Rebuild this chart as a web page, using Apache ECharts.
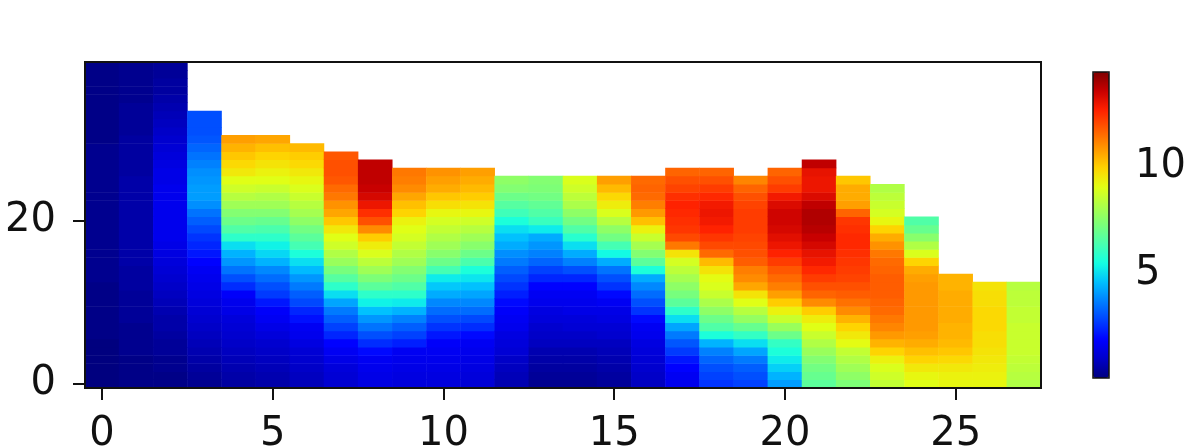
<!DOCTYPE html>
<html><head><meta charset="utf-8">
<style>html,body{margin:0;padding:0;background:#fff}#c{width:1196px;height:448px}</style>
<script src="https://cdn.jsdelivr.net/npm/echarts@6/dist/echarts.min.js"></script>
</head><body><div id="c"></div>
<script>
// Each column lists its cell values from the bottom row upward; height varies per column.
const col00=[.1,.1,.1,.1,.1,.1,.2,.2,.2,.2,.2,.2,.2,.3,.3,.3,.3,.3,.3,.3,.3,.3,.3,.3,.3,.3,.3,.3,.3,.3,.2,.2,.2,.2,.2,.2,.2,.2,.2,.2];
const col01=[.2,.2,.2,.2,.3,.3,.3,.3,.4,.4,.4,.4,.5,.5,.5,.6,.6,.6,.6,.6,.6,.6,.6,.6,.6,.6,.5,.5,.5,.5,.5,.4,.4,.4,.4,.3,.3,.3,.3,.3];
const col02=[.2,.2,.3,.3,.4,.4,.5,.6,.6,.7,.8,.9,1,1.1,1.2,1.3,1.4,1.5,1.6,1.6,1.6,1.6,1.6,1.6,1.6,1.5,1.5,1.4,1.3,1.2,1.1,1,.9,.8,.7,.6,.5,.5,.4,.4];
const col03=[.3,.4,.5,.6,.7,.8,.9,1,1.1,1.2,1.3,1.4,1.5,1.6,1.7,1.9,2.2,2.4,2.6,2.9,3.2,3.5,3.9,4.1,4.1,4,3.9,3.7,3.5,3.3,3.1,3,3,3];
const col04=[.5,.6,.7,.8,.9,1,1.1,1.2,1.3,1.5,1.6,1.8,2.5,3,3.5,4,4.4,5,5.9,6.5,7,7.4,7.9,8.3,8.7,9,9.5,9.8,10.1,10.4,10.7];
const col05=[.6,.7,.8,.9,1,1.1,1.3,1.5,1.7,1.8,2.2,2.7,3,3.4,3.8,4.4,4.9,5.3,5.9,6.4,6.9,7.4,7.9,8.2,8.6,9,9.3,9.6,9.9,10.2,10.6];
const col06=[.8,.9,1,1.1,1.2,1.4,1.6,1.7,2.1,2.4,2.9,3.2,3.6,4,4.5,5,5.6,6.3,6.7,7.1,7.6,8,8.3,8.6,8.9,9.2,9.5,9.8,10,10.3];
const col07=[1.1,1.2,1.3,1.5,1.7,1.9,2.4,2.8,3.2,3.6,4.2,5,5.9,6.6,7.2,7.8,8.2,8.7,9,9.5,10.1,10.6,10.9,11.3,11.5,11.8,11.9,11.9,11.8];
const col08=[1.4,1.5,1.6,1.7,2,2.5,3,3.5,4,4.6,5.3,5.9,6.7,7.3,7.9,8.4,8.9,9.4,10,11,11.9,12.4,12.9,13.3,13.5,13.6,13.6,13.6];
const col09=[1.3,1.4,1.5,1.6,1.7,2.3,2.8,3.2,3.7,4.4,5.2,5.9,6.5,7,7.4,7.9,8.2,8.5,8.8,9,9.3,9.9,10.2,10.6,11,11.2,11.3];
const col10=[1.3,1.4,1.5,1.6,1.7,1.8,2.2,2.6,3,3.4,3.8,4.3,4.7,5.2,6.3,7,7.5,7.9,8.2,8.5,8.8,9.2,9.7,10.1,10.5,10.7,10.9];
const col11=[1.2,1.3,1.4,1.5,1.6,1.7,2,2.5,2.9,3.4,3.8,4.2,4.6,5.1,5.6,6.4,7,7.5,7.9,8.3,8.7,9.2,9.6,10,10.3,10.5,10.7];
const col12=[.7,.8,.9,1,1.2,1.3,1.4,1.6,1.7,1.8,2,2.3,2.6,2.9,3.2,3.6,3.9,4.3,4.6,5,5.6,6.2,6.6,7,7.4,7.6];
const col13=[.3,.4,.5,.6,.7,.9,1,1.1,1.3,1.4,1.6,1.7,1.9,2.4,2.8,3.3,3.7,4,4.3,5.2,6.1,6.5,6.8,7.1,7.3,7.4];
const col14=[.3,.4,.5,.6,.7,.9,1,1.2,1.3,1.5,1.6,1.7,1.9,2.4,3,3.7,4.3,5,5.8,6.5,7.1,7.6,8.1,8.4,8.7,8.9];
const col15=[.4,.5,.6,.7,.8,.9,1.1,1.2,1.4,1.5,1.7,2,2.6,3,3.5,4.3,5.4,6.3,7.1,7.6,8.3,8.9,9.4,9.8,10.3,10.7];
const col16=[.9,1,1.1,1.2,1.3,1.4,1.6,1.7,2,2.6,3,3.4,3.8,4.3,5.6,6.7,7.4,8,8.6,9.3,10.2,10.8,11.2,11.5,11.6,11.5];
const col17=[1.6,1.7,1.9,2.2,2.7,3.1,3.6,4.2,5,5.9,6.7,7.2,7.6,8,8.4,8.8,9.6,11.3,12,12.3,12.4,12.5,12.6,12.4,12.1,11.9,11.6];
const col18=[2.6,2.8,3,3.3,3.7,4.4,5.6,6.5,7,7.6,8.1,8.6,8.9,9.1,9.6,10.3,11.5,12,12.3,12.6,12.8,12.9,12.8,12.5,12.2,11.9,11.6];
const col19=[2.8,3,3.2,3.6,4.2,5,6,6.9,7.7,8.3,9,9.6,10.6,11,11.2,11.7,11.9,12,12.1,12.2,12.2,12.2,12.1,11.9,11.6,11.1];
const col20=[4.1,4.4,4.8,5.2,5.6,6,7,7.8,8.6,9.3,10,10.7,11.2,11.5,11.8,12.2,12.6,12.9,13.1,13.3,13.4,13.4,13.2,12.8,12.2,11.9,11.6];
const col21=[6.7,6.9,7.1,7.4,7.8,8.2,8.6,9,9.4,10,11,11.6,11.9,12.2,12.5,12.8,13,13.3,13.5,13.7,13.8,13.8,13.6,13.2,12.9,12.9,13,13.6];
const col22=[7.3,7.6,7.9,8.2,8.5,9.1,9.5,9.9,10.4,11,11.4,11.7,11.9,12.1,12.2,12.3,12.4,12.5,12.5,12.4,12.3,11.6,10.7,10.5,10.5,10.1];
const col23=[8.5,8.7,8.9,9.3,9.9,10.4,10.8,11.1,11.3,11.5,11.6,11.7,11.7,11.7,11.6,11.5,11.3,10.9,10.5,9.9,9.2,8.8,8.6,8.4,8.2];
const col24=[9,9.2,9.5,9.9,10.2,10.5,10.7,10.8,10.8,10.8,10.8,10.8,10.8,10.7,10.5,9.9,8.9,8.2,7.5,6.9,6.5];
const col25=[9.2,9.3,9.5,9.8,10.1,10.3,10.4,10.4,10.5,10.5,10.5,10.5,10.4,10.4];
const col26=[9.2,9.3,9.4,9.5,9.6,9.7,9.7,9.8,9.8,9.8,9.7,9.7,9.6];
const col27=[8.2,8.3,8.4,8.5,8.6,8.6,8.6,8.6,8.5,8.5,8.4,8.4,8.3];
const columns=[col00,col01,col02,col03,col04,col05,col06,col07,col08,col09,col10,col11,col12,col13,col14,col15,col16,col17,col18,col19,col20,col21,col22,col23,col24,col25,col26,col27];
const xCategories=columns.map((_,i)=>String(i));
const yCategories=Array.from({length:40},(_,i)=>String(i));
const colorbarTicks=[5,10];
const valueMin=0.1, valueMax=14.4;
const jet=['#00007f','#0000c8','#0000ff','#0040ff','#007fff','#00bfff','#14ffe2','#48ffb0','#7aff7a','#adff48','#e2ff14','#ffd200','#ff9700','#ff5c00','#ff2100','#c80000','#7f0000'];

const cells=[];
columns.forEach((c,x)=>c.forEach((v,y)=>cells.push([x,y,v])));
const ink='#111';
const fontFamily='DejaVu Sans';
const fontSize=40;
const chart=echarts.init(document.getElementById('c'),null,{renderer:'canvas'});
chart.setOption({
  animation:false,
  backgroundColor:'#fff',
  grid:[
    {left:85,right:155,top:62,bottom:60,outerBoundsMode:'none',show:true,backgroundColor:'transparent',borderColor:ink,borderWidth:2,z:5},
    {left:1093,width:16,top:72,height:306,outerBoundsMode:'none',show:true,backgroundColor:'transparent',borderColor:ink,borderWidth:1.5,z:5}
  ],
  xAxis:[
    {type:'category',gridIndex:0,data:xCategories,splitArea:{show:false},splitLine:{show:false},
     axisLine:{show:false},
     axisTick:{show:true,interval:4,alignWithLabel:true,length:12,lineStyle:{color:ink,width:2}},
     axisLabel:{interval:4,margin:27,color:ink,fontSize:fontSize,fontFamily:fontFamily}},
    {type:'value',gridIndex:1,min:0,max:1,show:false}
  ],
  yAxis:[
    {type:'category',gridIndex:0,data:yCategories,splitArea:{show:false},splitLine:{show:false},
     axisLine:{show:false},
     axisTick:{show:true,interval:19,alignWithLabel:true,length:12,lineStyle:{color:ink,width:2}},
     axisLabel:{interval:19,margin:29,color:ink,fontSize:fontSize,fontFamily:fontFamily}},
    {type:'value',gridIndex:1,position:'right',min:valueMin,max:valueMax,splitLine:{show:false},
     axisLine:{show:false},
     axisTick:{show:true,customValues:colorbarTicks,length:12,lineStyle:{color:ink,width:2}},
     axisLabel:{customValues:colorbarTicks,margin:26,color:ink,fontSize:fontSize,fontFamily:fontFamily}}
  ],
  visualMap:{type:'continuous',min:valueMin,max:valueMax,seriesIndex:0,calculable:false,realtime:false,
    left:1093,top:72,itemWidth:16,itemHeight:306,padding:0,text:null,showLabel:false,
    inRange:{color:jet},textStyle:{fontSize:0},z:1},
  series:[{type:'heatmap',xAxisIndex:0,yAxisIndex:0,data:cells,progressive:0,itemStyle:{borderWidth:0}}]
});
</script></body></html>
